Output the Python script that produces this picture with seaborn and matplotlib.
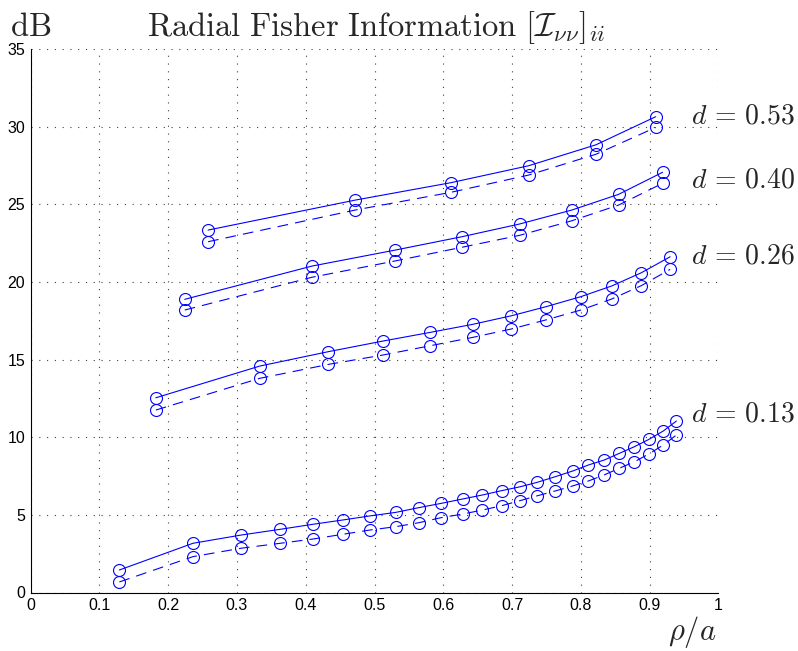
import matplotlib
matplotlib.use('Agg')
import matplotlib.pyplot as plt
from matplotlib.ticker import MultipleLocator
import seaborn as sns
import pandas as pd

# values: rho/a positions and dB values per spacing d
x_053 = [0.258, 0.472, 0.611, 0.724, 0.822, 0.909]
solid_053 = [23.34, 25.27, 26.39, 27.48, 28.83, 30.64]
dash_053 = [22.59, 24.63, 25.77, 26.88, 28.22, 29.95]

x_040 = [0.224, 0.409, 0.530, 0.627, 0.711, 0.787, 0.855, 0.919]
solid_040 = [18.88, 21.02, 22.05, 22.91, 23.73, 24.63, 25.64, 27.06]
dash_040 = [18.19, 20.30, 21.35, 22.23, 23.00, 23.94, 24.95, 26.35]

x_026 = [0.182, 0.333, 0.433, 0.512, 0.581, 0.643, 0.699, 0.749, 0.800,
         0.845, 0.888, 0.930]
solid_026 = [12.54, 14.58, 15.51, 16.19, 16.75, 17.27, 17.82, 18.40, 19.05,
             19.74, 20.59, 21.62]
dash_026 = [11.75, 13.79, 14.69, 15.29, 15.89, 16.43, 16.97, 17.55, 18.19,
            18.90, 19.76, 20.81]

x_013 = [0.129, 0.236, 0.306, 0.363, 0.410, 0.454, 0.493, 0.531, 0.564,
         0.597, 0.628, 0.657, 0.685, 0.712, 0.737, 0.763, 0.788, 0.811,
         0.834, 0.856, 0.878, 0.899, 0.920, 0.939]
solid_013 = [1.45, 3.17, 3.70, 4.07, 4.39, 4.67, 4.93, 5.16, 5.46, 5.74,
             6.02, 6.28, 6.56, 6.81, 7.10, 7.46, 7.82, 8.21, 8.53, 8.96,
             9.39, 9.86, 10.40, 11.04]
dash_013 = [0.68, 2.31, 2.85, 3.17, 3.44, 3.75, 4.02, 4.24, 4.49, 4.82,
            5.05, 5.31, 5.59, 5.92, 6.23, 6.54, 6.86, 7.18, 7.57, 8.00,
            8.42, 8.92, 9.50, 10.14]

d_labels = ['0.53', '0.40', '0.26', '0.13']
x_ticks = [0, 0.1, 0.2, 0.3, 0.4, 0.5, 0.6, 0.7, 0.8, 0.9, 1]
y_ticks = [0, 5, 10, 15, 20, 25, 30, 35]

series = [
    ('0.53', x_053, solid_053, dash_053),
    ('0.40', x_040, solid_040, dash_040),
    ('0.26', x_026, solid_026, dash_026),
    ('0.13', x_013, solid_013, dash_013),
]

rows = []
for d, xs, ys, yd in series:
    for x, a, b in zip(xs, ys, yd):
        rows.append({'d': d, 'rho': x, 'dB': a, 'kind': 'solid'})
        rows.append({'d': d, 'rho': x, 'dB': b, 'kind': 'dashed'})
df = pd.DataFrame(rows)

sns.set_style('white')
plt.rcParams['font.family'] = ['Liberation Sans', 'DejaVu Sans']
plt.rcParams['mathtext.fontset'] = 'cm'

fig = plt.figure(figsize=(7.98, 6.51), dpi=100)
ax = fig.add_axes([30.7 / 798, 1 - 592.5 / 651, 687.6 / 798, 543.5 / 651])

styles = {'solid': '-', 'dashed': (0, (9.6, 6.4))}
for d in d_labels:
    for kind in ['solid', 'dashed']:
        sub = df[(df['d'] == d) & (df['kind'] == kind)]
        sns.lineplot(data=sub, x='rho', y='dB', ax=ax, estimator=None,
                     sort=False, color='#0000ff', lw=0.8,
                     linestyle=styles[kind], marker='o', markersize=8.6,
                     markerfacecolor='none', markeredgecolor='#0000ff',
                     markeredgewidth=0.8, legend=False)

ax.set_xlim(0, 1)
ax.set_ylim(0, 35)
ax.set_xticks(x_ticks)
ax.set_xticklabels([('%g' % t) for t in x_ticks])
ax.set_yticks(y_ticks)
ax.set_yticklabels([str(t) for t in y_ticks])
ax.xaxis.set_minor_locator(MultipleLocator(0.01))
ax.set_xlabel('')
ax.set_ylabel('')

ax.grid(True, which='major', color='0.25', linestyle=(0, (1, 6)), lw=0.8)
ax.spines['top'].set_visible(False)
ax.spines['right'].set_visible(False)
for s in ['left', 'bottom']:
    ax.spines[s].set_linewidth(0.8)
    ax.spines[s].set_color('black')
ax.tick_params(which='major', direction='in', length=4, width=0.7,
               labelsize=11.5, pad=4, colors='black')
ax.tick_params(which='minor', direction='in', length=2, width=0.5,
               colors='0.3')
ax.tick_params(axis='y', which='minor', left=False)

# text
fig.text(10 / 798, 1 - 28 / 651, r'$\mathrm{dB}$', fontsize=23.5,
         ha='left', va='center')
fig.text(147 / 798, 1 - 28 / 651,
         r'$\mathrm{Radial\ Fisher\ Information}\ '
         r'[\boldsymbol{\mathcal{I}}_{\nu\nu}]_{ii}$',
         fontsize=23.5, ha='left', va='center')
label_y = [117, 180, 256, 414]
for d, py in zip(d_labels, label_y):
    fig.text(691 / 798, 1 - py / 651, r'$d\,=\,%s$' % d, fontsize=20,
             ha='left', va='center')
fig.text(716 / 798, 1 - 632 / 651, r'$\rho/a$', fontsize=22,
         ha='right', va='center')

plt.savefig('out.png', dpi=100)
